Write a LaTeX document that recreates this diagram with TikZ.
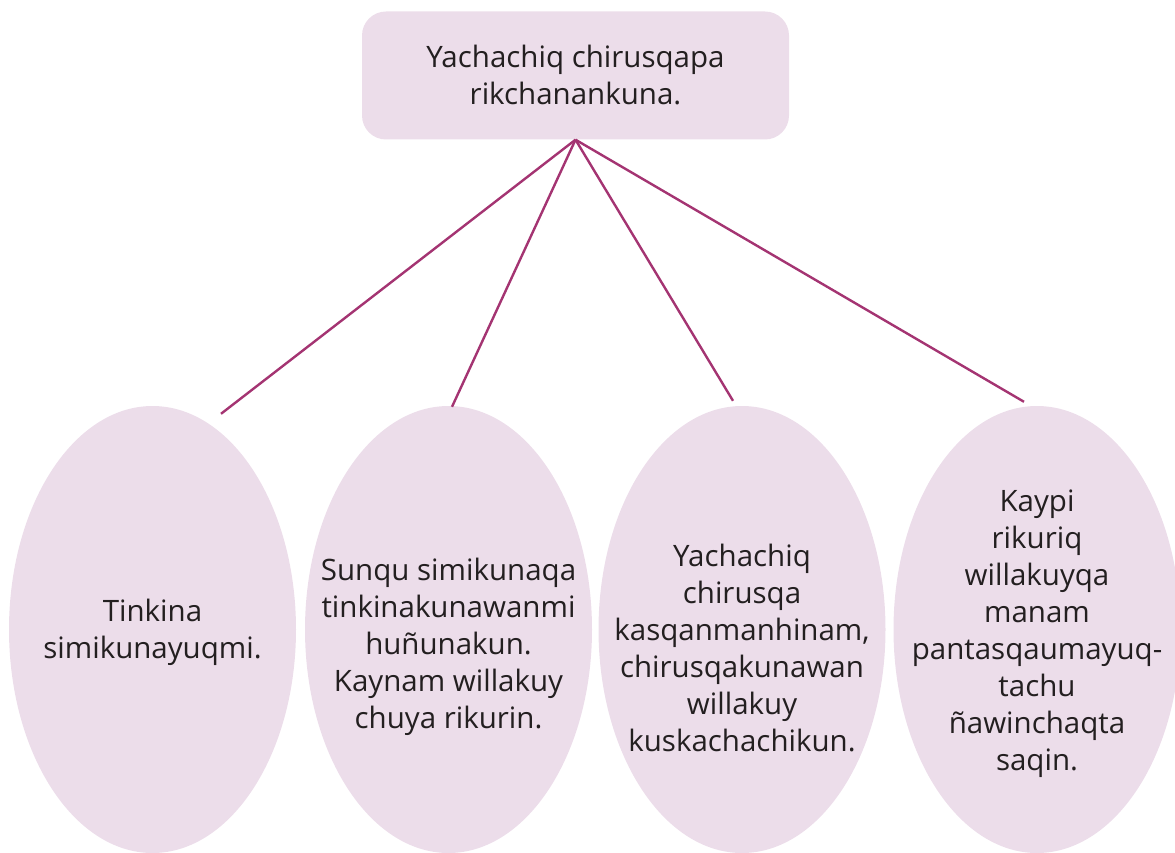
\documentclass[tikz,border=0pt]{standalone}
\usepackage{fontspec}
\setmainfont{Open Sans}
\usetikzlibrary{shapes.geometric}

\definecolor{bubblepink}{RGB}{236,221,234}
\definecolor{linkpurple}{RGB}{164,52,114}
\definecolor{inkgray}{RGB}{35,31,32}

\begin{document}
\begin{tikzpicture}
  [x=1pt, y=-1pt, font=\fontsize{29.5}{37}\selectfont, text=inkgray,
   titlebox/.style={rectangle, rounded corners=24pt, fill=bubblepink,
     minimum width=427pt, minimum height=128pt, align=center},
   bubble/.style={ellipse, fill=bubblepink, minimum width=287pt,
     minimum height=447pt, inner sep=0pt},
   bubbletext/.style={align=center, inner sep=0pt},
   link/.style={draw=linkpurple, line width=2.4pt}]
  \useasboundingbox (0,0) rectangle (1175,853);

  \node [titlebox] (title) at (575.5,75.5) {Yachachiq chirusqapa\\rikchanankuna.};

  % the four ellipses, text set on its own node
  \foreach \i/\x/\ty/\txt in {
      1/152.5/632/{Tinkina\\simikunayuqmi.},
      2/448.5/647/{Sunqu simikunaqa\\tinkinakunawanmi\\huñunakun.\\Kaynam willakuy\\chuya rikurin.},
      3/742/648/{Yachachiq\\chirusqa\\kasqanmanhinam,\\chirusqakunawan\\willakuy\\kuskachachikun.},
      4/1037/634/{Kaypi\\rikuriq\\willakuyqa\\manam\\pantasqaumayuq-\\tachu\\ñawinchaqta\\saqin.}} {
    \node [bubble] (e\i) at (\x,629.5) {};
    \node [bubbletext] (t\i) at (\x,\ty) {\txt};
  }

  \foreach \i/\dx/\dy in {1/68.5/8, 2/3.5/1, 3/-9/-5, 4/-13/-4}
    \draw [link] (title.south) -- ([shift={(\dx,\dy)}]e\i.north);
\end{tikzpicture}
\end{document}
